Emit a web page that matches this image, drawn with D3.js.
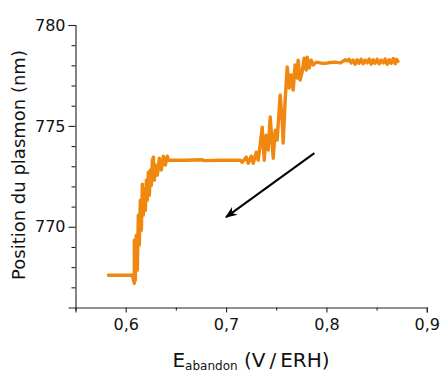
<!DOCTYPE html>
<html><head><meta charset="utf-8">
<script src="https://cdn.jsdelivr.net/npm/d3@7/dist/d3.min.js"></script>
<style>body{margin:0;background:#fff}svg{display:block}</style>
</head><body><svg id="c" width="440" height="373"></svg>
<script>
// Potential (V/ERH) sweep and plasmon position (nm), in acquisition order
const potential = [
  0.5828, 0.6066, 0.6086, 0.6086, 0.6096, 0.6106, 0.6116, 0.6126, 0.6136, 0.6146,
  0.6156, 0.6166, 0.6176, 0.6186, 0.6196, 0.6206, 0.6216, 0.6226, 0.6236, 0.6246,
  0.6256, 0.6266, 0.6276, 0.6286, 0.6296, 0.6316, 0.6335, 0.6355, 0.6375, 0.6395,
  0.6415, 0.6425, 0.6600, 0.6763, 0.6780, 0.6950, 0.7141,
  0.7161, 0.7181, 0.7201, 0.7221, 0.7251, 0.7271, 0.7301, 0.7320, 0.7340, 0.7360,
  0.7380, 0.7400, 0.7420, 0.7440, 0.7460, 0.7470, 0.7490, 0.7509, 0.7539, 0.7559,
  0.7569, 0.7589, 0.7609, 0.7629, 0.7649, 0.7669, 0.7688, 0.7708, 0.7718, 0.7738,
  0.7758, 0.7778, 0.7798, 0.7808, 0.7828, 0.7848, 0.7868, 0.7898, 0.7937, 0.7987,
  0.8037, 0.8086, 0.8136, 0.8166, 0.8186, 0.8206, 0.8226, 0.8246, 0.8266, 0.8286,
  0.8306, 0.8326, 0.8346, 0.8366, 0.8386, 0.8406, 0.8426, 0.8446, 0.8466, 0.8486,
  0.8506, 0.8526, 0.8546, 0.8566, 0.8586, 0.8606, 0.8626, 0.8646, 0.8666, 0.8686,
  0.8700, 0.8713
];
const plasmon = [
  767.60, 767.60, 767.20, 769.34, 767.35, 769.58, 767.85, 770.58, 769.09, 771.32,
  769.83, 772.11, 770.58, 771.82, 770.82, 772.31, 771.32, 772.71, 771.57, 772.81,
  772.06, 773.30, 773.45, 772.31, 773.06, 772.56, 773.40, 772.81, 773.50, 773.06,
  773.50, 773.30, 773.30, 773.32, 773.28, 773.30, 773.30,
  773.20, 773.32, 773.45, 773.15, 773.50, 773.15, 773.70, 773.30, 774.05, 774.94,
  773.30, 774.54, 773.80, 775.44, 774.05, 773.40, 774.79, 774.30, 776.53, 775.29,
  774.15, 776.28, 777.92, 776.88, 777.52, 776.78, 778.02, 777.37, 778.26, 777.27,
  777.67, 778.36, 777.77, 778.41, 777.87, 778.26, 778.02, 778.16, 778.12, 778.10,
  778.14, 778.16, 778.12, 778.20, 778.28, 778.22, 778.30, 778.12, 778.26, 778.05,
  778.28, 778.10, 778.30, 778.08, 778.26, 778.12, 778.32, 778.06, 778.28, 778.10,
  778.30, 778.08, 778.26, 778.12, 778.32, 778.05, 778.28, 778.10, 778.34, 778.08,
  778.30, 778.20
];
const xMajorTicks = [0.6, 0.7, 0.8, 0.9];
const xMajorLabels = ["0,6", "0,7", "0,8", "0,9"];
const xMinorTicks = [0.55, 0.65, 0.75, 0.85];
const yMajorTicks = [770, 775, 780];
const yMinorTicks = [767, 768, 769, 771, 772, 773, 774, 776, 777, 778, 779];
const arrowStart = [0.788, 773.65];
const arrowEnd = [0.700, 770.48];

const svg = d3.select("#c");
const x = d3.scaleLinear().domain([0.55, 0.9]).range([75.5, 426.8]);
const y = d3.scaleLinear().domain([766, 780]).range([307.5, 25]);
const font = "'DejaVu Sans', sans-serif";
const axisColor = "#222";

// x axis
const gx = svg.append("g").attr("transform", `translate(0,${y(766)})`);
gx.call(d3.axisBottom(x).tickValues(xMajorTicks).tickSize(5).tickPadding(6)
  .tickFormat((d, i) => xMajorLabels[i]));
gx.append("g").call(d3.axisBottom(x).tickValues(xMinorTicks).tickSize(3).tickFormat(""))
  .select(".domain").remove();
gx.selectAll("text").attr("font-family", font).attr("font-size", 16).attr("fill", "#111");

// y axis
const gy = svg.append("g").attr("transform", `translate(${x(0.55)},0)`);
gy.call(d3.axisLeft(y).tickValues(yMajorTicks).tickSize(7).tickPadding(3)
  .tickFormat(d3.format("d")));
gy.append("g").call(d3.axisLeft(y).tickValues(yMinorTicks).tickSize(4).tickFormat(""))
  .select(".domain").remove();
gy.selectAll("text").attr("font-family", font).attr("font-size", 16).attr("fill", "#111");

svg.selectAll(".domain, .tick line").attr("stroke", axisColor).attr("stroke-width", 1.1);

// data line
const pts = potential.map((p, i) => [p, plasmon[i]]);
svg.append("path").datum(pts)
  .attr("fill", "none").attr("stroke", "#F0870E").attr("stroke-width", 3.4)
  .attr("stroke-linejoin", "round").attr("stroke-linecap", "round")
  .attr("d", d3.line().x(d => x(d[0])).y(d => y(d[1])));

// arrow
svg.append("defs").append("marker").attr("id", "ah")
  .attr("viewBox", "0 0 10 10").attr("refX", 9).attr("refY", 5)
  .attr("markerWidth", 6).attr("markerHeight", 6).attr("orient", "auto")
  .attr("markerUnits", "strokeWidth")
  .append("path").attr("d", "M0,1 L10,5 L0,9 L3,5 Z").attr("fill", "#000");
svg.append("line")
  .attr("x1", x(arrowStart[0])).attr("y1", y(arrowStart[1]))
  .attr("x2", x(arrowEnd[0])).attr("y2", y(arrowEnd[1]))
  .attr("stroke", "#000").attr("stroke-width", 2).attr("marker-end", "url(#ah)");

// y label
svg.append("text").attr("transform", "translate(25,165) rotate(-90)")
  .attr("text-anchor", "middle").attr("font-family", font).attr("font-size", 18)
  .attr("fill", "#111").text("Position du plasmon (nm)");

// x label
const xl = svg.append("text").attr("x", 251).attr("y", 367).attr("text-anchor", "middle")
  .attr("font-family", font).attr("font-size", 20).attr("fill", "#111");
xl.append("tspan").text("E");
xl.append("tspan").attr("font-size", 12).attr("dy", 3).text("abandon");
xl.append("tspan").attr("dy", -3).text(" (V\u2009/\u2009ERH)");
</script></body></html>
